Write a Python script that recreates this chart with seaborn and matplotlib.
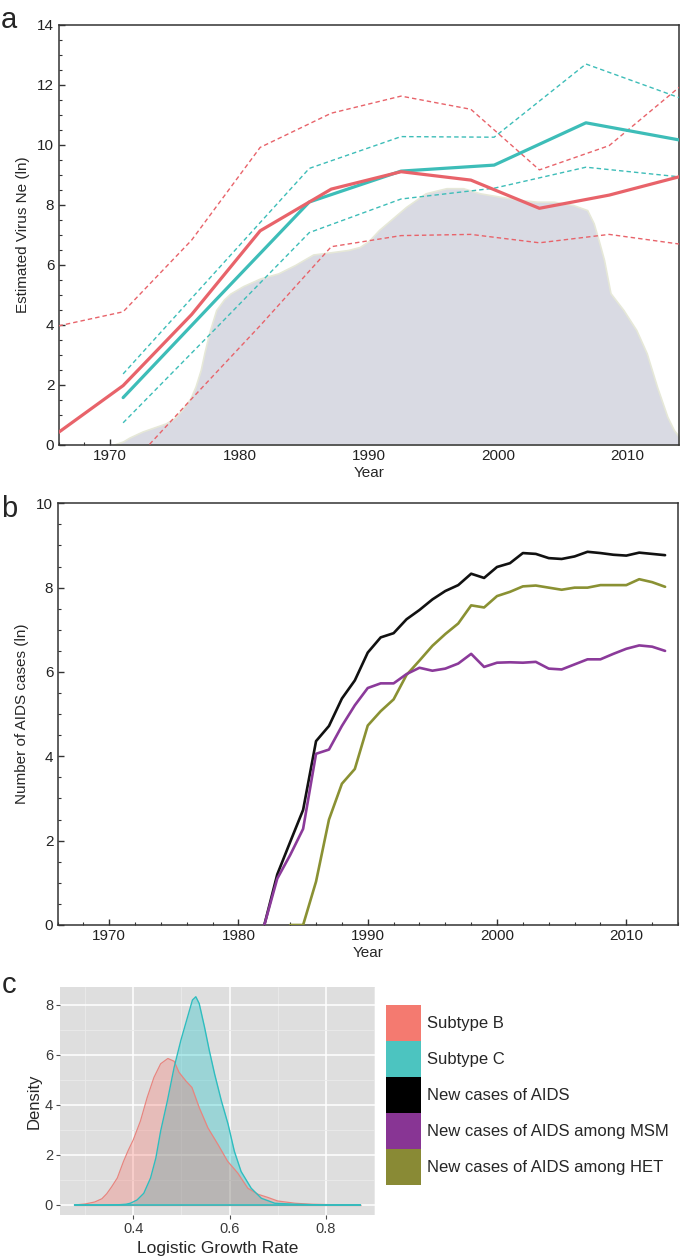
import numpy as np
import pandas as pd
import matplotlib
matplotlib.use("Agg")
import matplotlib.pyplot as plt
import seaborn as sns
from matplotlib.patches import Patch
from matplotlib.ticker import MultipleLocator

# ---------------- Panel a data ----------------
b_years = [1966, 1971, 1976.3, 1981.6, 1987.1, 1992.5, 1997.9, 2003.2, 2008.6, 2014]
b_median = [0.42, 1.98, 4.35, 7.14, 8.53, 9.11, 8.83, 7.89, 8.33, 8.94]
b_upper = [3.97, 4.44, 6.83, 9.92, 11.06, 11.63, 11.19, 9.17, 9.98, 11.92]
b_lower = [-3.3, -0.93, 1.54, 3.98, 6.61, 6.98, 7.02, 6.74, 7.02, 6.70]

c_years = [1971, 1978.2, 1985.4, 1992.5, 1999.7, 2006.8, 2014]
c_median = [1.58, 4.85, 8.10, 9.13, 9.33, 10.74, 10.17]
c_upper = [2.37, 5.80, 9.22, 10.28, 10.26, 12.70, 11.58]
c_lower = [0.74, 3.90, 7.08, 8.20, 8.56, 9.26, 8.94]

sample_years = [1970.2, 1971.0, 1971.5, 1972.5, 1973.5, 1974.3, 1975.0, 1975.6, 1976.2,
                1976.6, 1977.0, 1977.3, 1977.7, 1978.2, 1978.8, 1979.3, 1980.3, 1981.6,
                1983.0, 1984.3, 1985.7, 1987.0, 1988.4, 1989.3, 1990.0, 1990.8, 1991.7,
                1992.9, 1994.4, 1996.0, 1997.3, 1998.6, 2000.1, 2001.7, 2003.0, 2004.3,
                2005.8, 2006.9, 2007.4, 2007.8, 2008.2, 2008.7, 2009.7, 2010.7, 2011.5,
                2012.3, 2013.1, 2013.6, 2014.0]
sample_density = [0.0, 0.12, 0.25, 0.45, 0.6, 0.72, 0.9, 1.2, 1.55,
                  1.95, 2.5, 3.1, 3.8, 4.5, 4.85, 5.05, 5.3, 5.55,
                  5.72, 6.0, 6.35, 6.42, 6.5, 6.6, 6.8, 7.17, 7.5,
                  7.94, 8.39, 8.56, 8.56, 8.39, 8.28, 8.17, 8.11, 8.11,
                  8.0, 7.83, 7.39, 6.8, 6.17, 5.06, 4.5, 3.83, 3.06,
                  1.94, 0.94, 0.5, 0.28]

# ---------------- Panel b data ----------------
aids_years = list(range(1982, 2014))
aids_all = [0.0, 1.2, 1.97, 2.73, 4.36, 4.72, 5.37, 5.8, 6.46, 6.82, 6.92, 7.25, 7.47, 7.72,
            7.92, 8.06, 8.33, 8.23, 8.49, 8.58, 8.82, 8.8, 8.7, 8.68, 8.74, 8.85, 8.82,
            8.78, 8.76, 8.83, 8.8, 8.77]
aids_msm = [0.0, 1.1, 1.66, 2.28, 4.06, 4.16, 4.72, 5.21, 5.62, 5.73, 5.73, 5.95, 6.1, 6.03,
            6.08, 6.2, 6.43, 6.12, 6.22, 6.23, 6.22, 6.24, 6.08, 6.06, 6.18, 6.3, 6.3,
            6.43, 6.55, 6.63, 6.6, 6.5]
het_years = list(range(1984, 2014))
aids_het = [0.0, 0.0, 1.03, 2.5, 3.35, 3.7, 4.73, 5.07, 5.35, 5.93, 6.27, 6.62, 6.9, 7.15,
            7.58, 7.53, 7.8, 7.9, 8.03, 8.05, 8.0, 7.95, 8.0, 8.0, 8.06, 8.06, 8.06,
            8.2, 8.13, 8.02]

# ---------------- Panel c data ----------------
rateB_x = [0.278, 0.30, 0.32, 0.335, 0.345, 0.355, 0.367, 0.38, 0.39, 0.40, 0.415, 0.429,
           0.443, 0.457, 0.472, 0.485, 0.495, 0.509, 0.522, 0.537, 0.555, 0.576, 0.596,
           0.617, 0.638, 0.659, 0.68, 0.70, 0.736, 0.77, 0.82, 0.872]
rateB_d = [0.0, 0.04, 0.12, 0.25, 0.45, 0.72, 1.08, 1.75, 2.2, 2.6, 3.36, 4.3,
           5.1, 5.65, 5.86, 5.75, 5.31, 4.97, 4.7, 3.9, 3.09, 2.42, 1.75,
           1.28, 0.67, 0.43, 0.3, 0.16, 0.07, 0.03, 0.01, 0.0]
rateC_x = [0.278, 0.34, 0.37, 0.385, 0.394, 0.408, 0.422, 0.436, 0.447, 0.457, 0.471, 0.485,
           0.499, 0.513, 0.523, 0.530, 0.537, 0.548, 0.558, 0.569, 0.583, 0.597, 0.61,
           0.624, 0.645, 0.666, 0.694, 0.736, 0.80, 0.872]
rateC_d = [0.0, 0.0, 0.01, 0.03, 0.07, 0.2, 0.47, 1.08, 1.88, 2.96, 4.17, 5.51,
           6.59, 7.53, 8.2, 8.33, 8.06, 7.12, 6.18, 5.24, 4.17, 3.23, 2.15,
           1.34, 0.67, 0.27, 0.07, 0.03, 0.0, 0.0]

legend_labels = ["Subtype B", "Subtype C", "New cases of AIDS",
                 "New cases of AIDS among MSM", "New cases of AIDS among HET"]
legend_colors = ["#F47A70", "#4CC4C0", "#000000", "#883594", "#898A35"]

# ---------------- Style ----------------
sns.set_theme(style="ticks")
plt.rcParams["font.family"] = ["Liberation Sans", "DejaVu Sans"]

RED = "#E8636A"
CYAN = "#3DBDB8"
SPINE = "#333333"
W, H = 680, 1259

fig = plt.figure(figsize=(6.8, 12.59), dpi=100)


def add_ax(l, t, r, b):
    return fig.add_axes([l / W, 1 - b / H, (r - l) / W, (b - t) / H])


ax_a = add_ax(58.5, 25, 679, 445)
ax_b = add_ax(57.5, 503.3, 678, 925)
ax_c = add_ax(60, 987, 375, 1215)

dash = (0, (3.2, 2.2))

# ---------------- Panel a ----------------
ax_a.fill_between(sample_years, sample_density, 0, facecolor="#d9dae3",
                  edgecolor="#e6e8d8", lw=1.2, zorder=1)
sns.lineplot(x=b_years, y=b_upper, ax=ax_a, color=RED, lw=1.0, linestyle=dash, zorder=3)
sns.lineplot(x=b_years, y=b_lower, ax=ax_a, color=RED, lw=1.0, linestyle=dash, zorder=3)
sns.lineplot(x=c_years, y=c_upper, ax=ax_a, color=CYAN, lw=1.0, linestyle=dash, zorder=3)
sns.lineplot(x=c_years, y=c_lower, ax=ax_a, color=CYAN, lw=1.0, linestyle=dash, zorder=3)
sns.lineplot(x=c_years, y=c_median, ax=ax_a, color=CYAN, lw=2.3, zorder=4)
sns.lineplot(x=b_years, y=b_median, ax=ax_a, color=RED, lw=2.3, zorder=4)
ax_a.set_xlim(1966, 2014)
ax_a.set_ylim(0, 14)
ax_a.yaxis.set_major_locator(MultipleLocator(2))
ax_a.yaxis.set_minor_locator(MultipleLocator(0.5))
ax_a.set_ylabel("Estimated Virus Ne (ln)", fontsize=11, labelpad=5)

# ---------------- Panel b ----------------
sns.lineplot(x=aids_years, y=aids_all, ax=ax_b, color="#111111", lw=1.9, zorder=3)
sns.lineplot(x=aids_years, y=aids_msm, ax=ax_b, color="#8B3A9A", lw=1.9, zorder=4)
sns.lineplot(x=het_years, y=aids_het, ax=ax_b, color="#8A9133", lw=1.9, zorder=3)
ax_b.set_xlim(1966, 2014)
ax_b.set_ylim(0, 10)
ax_b.yaxis.set_major_locator(MultipleLocator(2))
ax_b.yaxis.set_minor_locator(MultipleLocator(0.5))
ax_b.set_ylabel("Number of AIDS cases (ln)", fontsize=11, labelpad=5)

for ax in (ax_a, ax_b):
    ax.xaxis.set_major_locator(MultipleLocator(10))
    ax.xaxis.set_minor_locator(MultipleLocator(2))
    ax.tick_params(which="both", direction="in", top=False, right=False,
                   color=SPINE, labelsize=11, labelcolor="#222222", pad=3)
    ax.tick_params(which="major", length=4.5, width=1.0)
    ax.tick_params(which="minor", length=2.2, width=0.8)
    for s in ax.spines.values():
        s.set_visible(True)
        s.set_color(SPINE)
        s.set_linewidth(1.1)
    ax.set_xlabel("Year", fontsize=11, labelpad=2)
    ax.grid(False)

# ---------------- Panel c ----------------
ax_c.set_facecolor("#DEDEDE")
ax_c.set_axisbelow(True)
ax_c.grid(which="major", color="white", lw=1.1)
ax_c.grid(which="minor", color="#EAEAEA", lw=0.6)
ax_c.fill_between(rateC_x, rateC_d, 0, color="#00BFC4", alpha=0.3, lw=0, zorder=2)
ax_c.fill_between(rateB_x, rateB_d, 0, color="#F8766D", alpha=0.32, lw=0, zorder=2)
sns.lineplot(x=rateB_x, y=rateB_d, ax=ax_c, color="#E8857F", lw=0.9, zorder=3)
ax_c.hlines(0, min(rateB_x), max(rateB_x), color="#E8857F", lw=0.9, zorder=3)
sns.lineplot(x=rateC_x, y=rateC_d, ax=ax_c, color="#2EBDBF", lw=1.0, zorder=4)
ax_c.hlines(0, min(rateC_x), max(rateC_x), color="#2EBDBF", lw=1.2, zorder=4)
ax_c.set_xlim(0.248, 0.902)
ax_c.set_ylim(-0.4, 8.72)
ax_c.xaxis.set_major_locator(MultipleLocator(0.2))
ax_c.xaxis.set_minor_locator(MultipleLocator(0.1))
ax_c.yaxis.set_major_locator(MultipleLocator(2))
ax_c.yaxis.set_minor_locator(MultipleLocator(1))
for s in ax_c.spines.values():
    s.set_visible(False)
ax_c.tick_params(which="major", direction="out", length=3, width=0.8,
                 color="#4d4d4d", labelcolor="#3a3a3a", labelsize=10.5, pad=2)
ax_c.tick_params(which="minor", length=0)
ax_c.set_xlabel("Logistic Growth Rate", fontsize=12.5, labelpad=4)
ax_c.set_ylabel("Density", fontsize=12, labelpad=2)

handles = [Patch(facecolor=c, edgecolor="none") for c in legend_colors]
fig.legend(handles, legend_labels, loc="upper left",
           bbox_to_anchor=(386 / W, 1 - 1005 / H), frameon=False, fontsize=12,
           handlelength=2.08, handleheight=2.95, handletextpad=0.4,
           labelspacing=0, borderpad=0, borderaxespad=0)

# panel letters
fig.text(9 / W, 1 - 28 / H, "a", fontsize=21, ha="center", va="baseline")
fig.text(9 / W, 1 - 517 / H, "b", fontsize=21, ha="center", va="baseline")
fig.text(9 / W, 1 - 993 / H, "c", fontsize=21, ha="center", va="baseline")

fig.savefig("out.png", dpi=100)
